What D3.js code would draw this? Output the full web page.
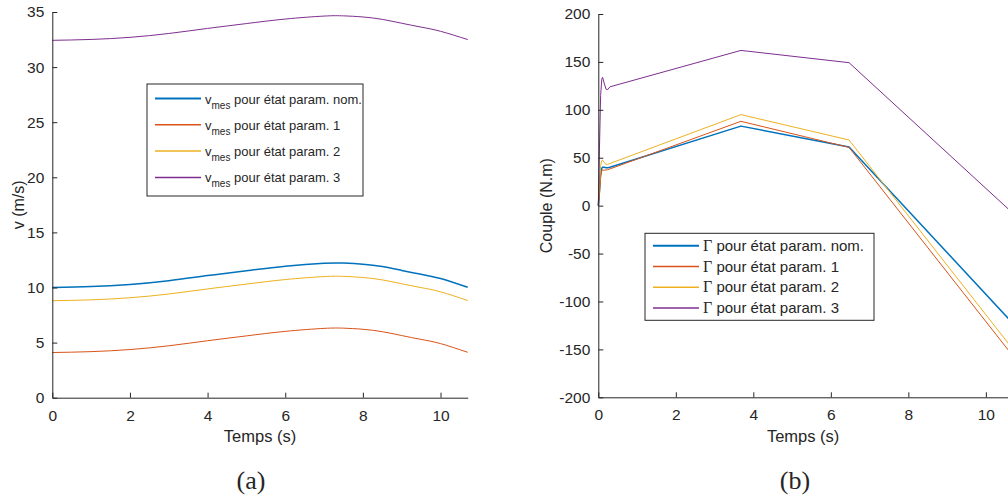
<!DOCTYPE html>
<html><head><meta charset="utf-8">
<script src="https://cdn.jsdelivr.net/npm/d3@7"></script>
<style>
html,body{margin:0;padding:0;background:#fff;overflow:hidden;}
svg{display:block;}
text{font-family:"Liberation Sans",Arial,sans-serif;fill:#262626;}
</style></head>
<body>
<svg id="chart" width="1008" height="498"></svg>
<script>
// ---------- data: left panel (speed) ----------
const tV = [0, 1, 2, 3, 4, 5, 6, 7, 7.5, 8, 8.5, 9, 9.5, 10, 10.7];
const vNom = [10.0, 10.08, 10.28, 10.62, 11.08, 11.52, 11.93, 12.2, 12.22, 12.12, 11.9, 11.55, 11.2, 10.82, 10.02];
const vP1  = [4.1, 4.18, 4.37, 4.71, 5.17, 5.61, 6.02, 6.29, 6.31, 6.21, 5.99, 5.64, 5.29, 4.91, 4.12];
const vP2  = [8.8, 8.88, 9.07, 9.41, 9.87, 10.31, 10.72, 10.99, 11.01, 10.91, 10.69, 10.34, 9.99, 9.61, 8.82];
const vP3  = [32.43, 32.51, 32.7, 33.05, 33.51, 33.95, 34.36, 34.63, 34.65, 34.55, 34.33, 33.98, 33.63, 33.25, 32.5];
const vLegend = ["pour état param. nom.", "pour état param. 1", "pour état param. 2", "pour état param. 3"];

// ---------- data: right panel (torque) ----------
const tC = [0, 0.03, 0.06, 0.09, 0.11, 0.15, 0.2, 0.24, 0.3, 3.68, 6.47, 10.7];
const cNom = [0, 15, 33, 39, 40, 40, 39.5, 39.5, 40, 83, 61.2, -123];
const cP1  = [0, 12, 30, 36.5, 37, 37, 37.2, 37.6, 38.3, 88, 60.8, -157];
const cP2  = [0, 20, 42, 47, 47.5, 45, 43.2, 43, 44, 95, 68.5, -150];
const cP3  = [0, 60, 115, 132, 134, 128, 121.5, 121, 124, 162, 149.2, -8];
const cLegend = ["pour état param. nom.", "pour état param. 1", "pour état param. 2", "pour état param. 3"];

// ---------- ticks ----------
const xTicks = [0, 2, 4, 6, 8, 10];
const vTicks = [0, 5, 10, 15, 20, 25, 30, 35];
const cTicks = [-200, -150, -100, -50, 0, 50, 100, 150, 200];

const colors = ["#0072BD", "#D95319", "#EDB120", "#7E2F8E"];
const widths = [1.5, 1, 1, 1];
const axisColor = "#262626";

const svg = d3.select("#chart");

function drawPanel(cfg) {
  const g = svg.append("g");
  const x = d3.scaleLinear().domain([0, 10.7]).range([cfg.x0, cfg.x1]);
  const y = d3.scaleLinear().domain(cfg.yDomain).range([cfg.yBottom, cfg.yTop]);

  // lines
  const line = d3.line().x((d, i) => x(cfg.t[i])).y(d => y(d)).curve(cfg.curve);
  cfg.series.forEach((s, i) => {
    g.append("path").datum(s).attr("d", line)
      .attr("fill", "none").attr("stroke", colors[i]).attr("stroke-width", widths[i])
      .attr("stroke-linejoin", "round");
  });

  // axes (inward ticks)
  const xa = g.append("g").attr("transform", `translate(0,${cfg.yBottom})`)
    .call(d3.axisBottom(x).tickValues(xTicks).tickSize(-5).tickPadding(12).tickSizeOuter(0).tickFormat(d3.format("d")));
  const ya = g.append("g").attr("transform", `translate(${cfg.x0},0)`)
    .call(d3.axisLeft(y).tickValues(cfg.yTicks).tickSize(-5).tickPadding(12).tickSizeOuter(0)
      .tickFormat(d => String(d).replace("\u2212", "-")));
  [xa, ya].forEach(a => {
    a.select(".domain").attr("stroke", axisColor).attr("stroke-width", 1);
    a.selectAll(".tick line").attr("stroke", axisColor);
    a.selectAll(".tick text").attr("fill", axisColor).style("font-size", "15.5px")
      .style("font-family", '"Liberation Sans",Arial,sans-serif');
  });
  ya.selectAll(".tick text").attr("dx", "4");
  xa.selectAll(".tick text").attr("dy", "0.71em");

  // axis labels
  g.append("text").attr("x", (cfg.x0 + Math.min(cfg.x1, 1008)) / 2 + cfg.xLabelShift).attr("y", 442)
    .attr("text-anchor", "middle").style("font-size", "16.5px").text("Temps (s)");
  g.append("text").attr("transform", `translate(${cfg.yLabelX},${(cfg.yTop + cfg.yBottom) / 2}) rotate(-90)`)
    .attr("text-anchor", "middle").style("font-size", "16px").text(cfg.yLabel);

  // caption
  g.append("text").attr("x", cfg.capX).attr("y", 489).attr("text-anchor", "middle")
    .style("font-family", '"Liberation Serif","Times New Roman",serif').style("font-size", "26px")
    .text(cfg.caption);

  // legend
  const L = cfg.legend;
  const lg = g.append("g");
  lg.append("rect").attr("x", L.x).attr("y", L.y).attr("width", L.w).attr("height", L.h)
    .attr("fill", "#fff").attr("stroke", axisColor).attr("stroke-width", 1);
  cfg.legendText.forEach((txt, i) => {
    const yy = L.y + L.first + i * L.step;
    lg.append("line").attr("x1", L.x + 8).attr("x2", L.x + 54).attr("y1", yy).attr("y2", yy)
      .attr("stroke", colors[i]).attr("stroke-width", widths[i] + 0.5);
    const t = lg.append("text").attr("x", L.x + 58).attr("y", yy + 5).style("font-size", L.fs + "px");
    if (cfg.sym === "v") {
      t.append("tspan").text("v");
      t.append("tspan").attr("dy", 5).style("font-size", "10px").text("mes");
      t.append("tspan").attr("dy", -5).text(" " + txt);
    } else {
      t.append("tspan").style("font-family", '"Liberation Serif","Times New Roman",serif')
        .style("font-size", (L.fs + 1) + "px").text("\u0393");
      t.append("tspan").text(" " + txt);
    }
  });
}

drawPanel({
  x0: 52.3, x1: 467.7, yTop: 12, yBottom: 397.7, yDomain: [0, 35], yTicks: vTicks,
  t: tV, series: [vNom, vP1, vP2, vP3], curve: d3.curveNatural,
  yLabel: "v (m/s)", yLabelX: 24, xLabelShift: 0, caption: "(a)", capX: 251,
  sym: "v", legendText: vLegend,
  legend: { x: 147, y: 84, w: 216, h: 112, first: 14.5, step: 26.3, fs: 13 }
});

drawPanel({
  x0: 598.3, x1: 1013, yTop: 14, yBottom: 397.3, yDomain: [-200, 200], yTicks: cTicks,
  t: tC, series: [cNom, cP1, cP2, cP3], curve: d3.curveLinear,
  yLabel: "Couple (N.m)", yLabelX: 552, xLabelShift: 0, caption: "(b)", capX: 795,
  sym: "G", legendText: cLegend,
  legend: { x: 645, y: 233.3, w: 229, h: 87, first: 12.5, step: 20.7, fs: 15 }
});
</script>
</body></html>
